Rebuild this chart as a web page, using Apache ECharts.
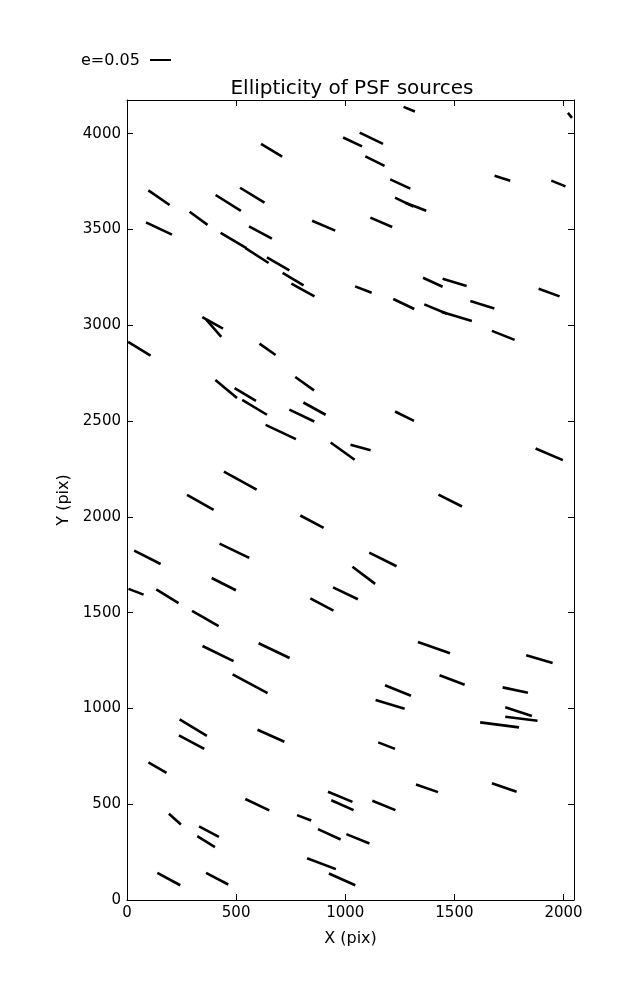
<!DOCTYPE html>
<html>
<head>
<meta charset="utf-8">
<script src="https://cdn.jsdelivr.net/npm/echarts@6/dist/echarts.min.js"></script>
<style>
html,body{margin:0;padding:0;background:#fff;}
#chart{width:637px;height:1000px;}
</style>
</head>
<body>
<div id="chart"></div>
<script>
// Whisker endpoints (data units, CCD pixels): start (x0,y0) and end (x1,y1)
var x0 = [1267,2020,990,1066,614,1092,1684,1944,1206,98,518,406,1228,1275,287,848,1115,87,559,429,543,641,713,753,1356,1446,1045,1886,1220,1362,1443,1573,345,363,1672,5,607,405,493,528,771,808,744,1228,635,933,1024,1872,444,1427,275,794,424,33,1110,1033,388,7,134,944,840,298,1333,346,603,1829,484,1432,1182,1721,1139,1733,1733,1618,241,238,598,1151,98,1672,1324,921,936,542,1124,192,779,330,322,875,1005,825,139,362,925];
var y0 = [4140,4109,3980,4006,3947,3882,3780,3755,3762,3704,3718,3680,3666,3640,3593,3546,3562,3537,3516,3483,3403,3354,3273,3217,3248,3243,3203,3191,3137,3109,3069,3127,3043,3029,2971,2913,2904,2715,2672,2611,2730,2597,2560,2550,2480,2388,2377,2357,2236,2116,2115,2007,1860,1824,1813,1740,1681,1624,1622,1632,1575,1509,1347,1326,1340,1277,1178,1173,1121,1110,1044,1006,957,927,943,859,889,823,718,609,603,565,521,527,518,450,443,384,333,370,344,218,142,142,138];
var x1 = [1319,2039,1077,1173,711,1180,1756,2009,1298,195,630,522,1312,1371,369,954,1215,206,664,547,649,744,809,859,1446,1556,1121,1982,1316,1466,1580,1683,440,432,1776,108,681,504,591,641,857,910,858,1315,774,1043,1116,1997,594,1535,397,901,560,154,1235,1137,499,76,236,1058,946,420,1480,488,745,1950,644,1547,1301,1837,1272,1855,1881,1796,366,354,721,1228,181,1785,1425,1033,1038,652,1230,247,844,421,403,979,1111,957,244,464,1046];
var y1 = [4116,4083,3934,3947,3880,3832,3755,3725,3713,3628,3640,3597,3619,3598,3524,3494,3513,3473,3452,3403,3325,3286,3208,3151,3201,3205,3170,3151,3085,3060,3022,3088,2982,2940,2924,2842,2845,2621,2606,2533,2660,2533,2498,2501,2406,2298,2348,2296,2142,2054,2036,1942,1786,1754,1742,1650,1617,1594,1550,1570,1510,1429,1288,1247,1263,1237,1080,1124,1066,1082,998,960,936,901,857,789,826,789,664,565,563,512,469,468,469,394,415,330,276,316,295,161,77,81,77];

var xTicks = [0, 500, 1000, 1500, 2000];
var yTicks = [0, 500, 1000, 1500, 2000, 2500, 3000, 3500, 4000];
var xMax = 2048, yMax = 4176;
var keyLabel = 'e=0.05';

var segs = [];
for (var i = 0; i < x0.length; i++) segs.push([x0[i], y0[i], x1[i], y1[i]]);

var FONT = 'DejaVu Sans';
var chart = echarts.init(document.getElementById('chart'), null, {renderer: 'canvas'});

function tickFmt(list) {
  return function (v) { return list.indexOf(v) >= 0 ? String(v) : ''; };
}

var axisCommon = {
  axisLine: {show: true, onZero: false, lineStyle: {color: '#000', width: 1}},
  axisTick: {show: true, inside: true, length: 6, lineStyle: {color: '#000', width: 1}},
  splitLine: {show: false}
};

chart.setOption({
  animation: false,
  backgroundColor: '#fff',
  title: {
    text: 'Ellipticity of PSF sources',
    left: 347, top: 74, textAlign: 'center',
    textStyle: {fontFamily: FONT, fontSize: 20, fontWeight: 'normal', color: '#000'}
  },
  grid: {left: 127, right: 63, top: 100, bottom: 100, show: false},
  xAxis: [
    Object.assign({}, axisCommon, {
      type: 'value', min: 0, max: xMax, interval: 500, position: 'bottom',
      name: 'X (pix)', nameLocation: 'middle', nameGap: 31,
      nameTextStyle: {fontFamily: FONT, fontSize: 16, color: '#000'},
      axisLabel: {show: true, margin: 6, fontFamily: FONT, fontSize: 15, color: '#000', formatter: tickFmt(xTicks), showMaxLabel: false}
    }),
    Object.assign({}, axisCommon, {
      type: 'value', min: 0, max: xMax, interval: 500, position: 'top',
      axisLabel: {show: false}
    })
  ],
  yAxis: [
    Object.assign({}, axisCommon, {
      type: 'value', min: 0, max: yMax, interval: 500, position: 'left',
      name: 'Y (pix)', nameLocation: 'middle', nameGap: 55,
      nameTextStyle: {fontFamily: FONT, fontSize: 16, color: '#000'},
      axisLabel: {show: true, margin: 6, fontFamily: FONT, fontSize: 15, color: '#000', formatter: tickFmt(yTicks), showMaxLabel: false}
    }),
    Object.assign({}, axisCommon, {
      type: 'value', min: 0, max: yMax, interval: 500, position: 'right',
      axisLabel: {show: false}
    })
  ],
  graphic: [
    {type: 'text', left: 81, top: 53, style: {text: keyLabel, fontFamily: FONT, fontSize: 16, fill: '#000'}},
    {type: 'line', shape: {x1: 150, y1: 60, x2: 171, y2: 60}, style: {stroke: '#000', lineWidth: 2}}
  ],
  series: [{
    type: 'custom',
    xAxisIndex: 0, yAxisIndex: 0,
    clip: true,
    data: segs,
    renderItem: function (params, api) {
      var a = api.coord([api.value(0), api.value(1)]);
      var b = api.coord([api.value(2), api.value(3)]);
      return {
        type: 'line',
        shape: {x1: a[0], y1: a[1], x2: b[0], y2: b[1]},
        style: {stroke: '#000', lineWidth: 2.6, lineCap: 'butt'}
      };
    }
  }]
});
</script>
</body>
</html>
